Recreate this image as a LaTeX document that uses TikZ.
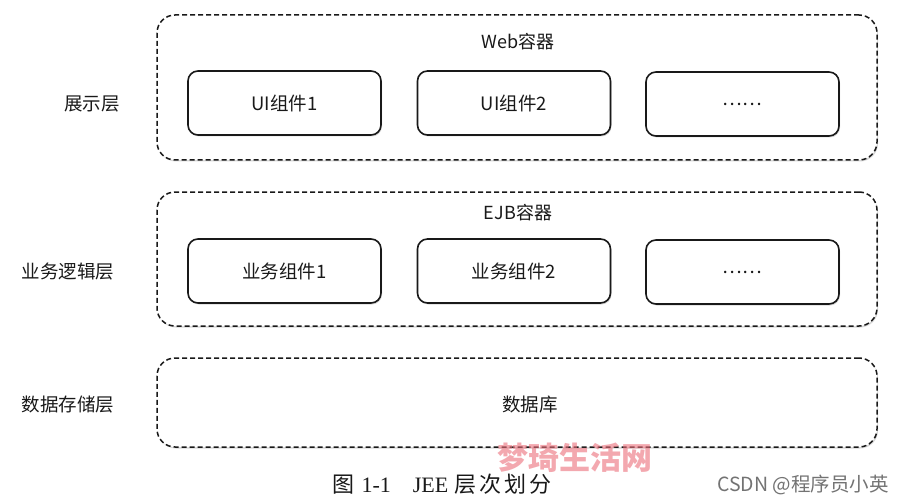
\documentclass[tikz,border=0pt]{standalone}
\usepackage{fontspec}
\setmainfont{Noto Sans CJK SC}
\newfontfamily\serifen{Liberation Serif}
\usetikzlibrary{shadows}
\definecolor{wmpink}{RGB}{236,110,122}
\begin{document}
\begin{tikzpicture}[x=1pt,y=-1pt,
  container/.style={draw=black!90, line width=1.5pt, dash pattern=on 5pt off 3pt, rounded corners=18pt, rectangle, minimum width=720pt, fill=white,
     drop shadow={shadow xshift=1pt, shadow yshift=-1.5pt, fill=black!25, opacity=0.6}},
  comp/.style={draw=black!90, line width=1.6pt, rounded corners=10pt, rectangle, minimum width=193pt, minimum height=64pt, fill=white,
     drop shadow={shadow xshift=1pt, shadow yshift=-1.5pt, fill=black!25, opacity=0.6}, font=\fontsize{18.5pt}{20pt}\selectfont, text=black!90},
  lbl/.style={font=\fontsize{18.5pt}{20pt}\selectfont, text=black!90},
  title/.style={font=\fontsize{18pt}{20pt}\selectfont, text=black!90}
]
\fill[white] (0,0) rectangle (905,500);
\useasboundingbox (0,0) rectangle (905,500);

\node[container, minimum height=145pt] (web) at (517,87.5) {};
\node[container, minimum height=134pt] (ejb) at (517,259) {};
\node[container, minimum height=89pt] (db) at (517,402.5) {};

\node[title] (webt) at (518,42) {Web容器};
\node[title] (ejbt) at (518,213) {EJB容器};

\node[comp] (ui1) at (284.5,103) {UI组件1};
\node[comp] (ui2) at (514,103) {UI组件2};
\node[comp] (ui3) at (742.5,104) {……};

\node[comp] (bz1) at (284.5,271) {业务组件1};
\node[comp] (bz2) at (514,271) {业务组件2};
\node[comp] (bz3) at (742.5,272) {……};

\node[lbl] (dbt) at (530,405) {数据库};

\node[lbl] (l1) at (92,104) {展示层};
\node[lbl] (l2) at (68,272) {业务逻辑层};
\node[lbl] (l3) at (68,405) {数据存储层};

\node[text=wmpink, opacity=0.6, font=\fontsize{31pt}{33pt}\selectfont\bfseries] (wm) at (575,458) {梦琦生活网};
\node[font=\fontsize{22pt}{24pt}\selectfont, text=black!90] (cap) at (442,484) {图\hspace{7pt}{\serifen 1-1}\hspace{22pt}{\serifen JEE}\hspace{6pt}层\hspace{3pt}次\hspace{3pt}划\hspace{3pt}分};
\node[text=black!55, font=\fontsize{19.5pt}{21pt}\selectfont] (csdn) at (803,485) {CSDN @程序员小英};
\end{tikzpicture}
\end{document}
